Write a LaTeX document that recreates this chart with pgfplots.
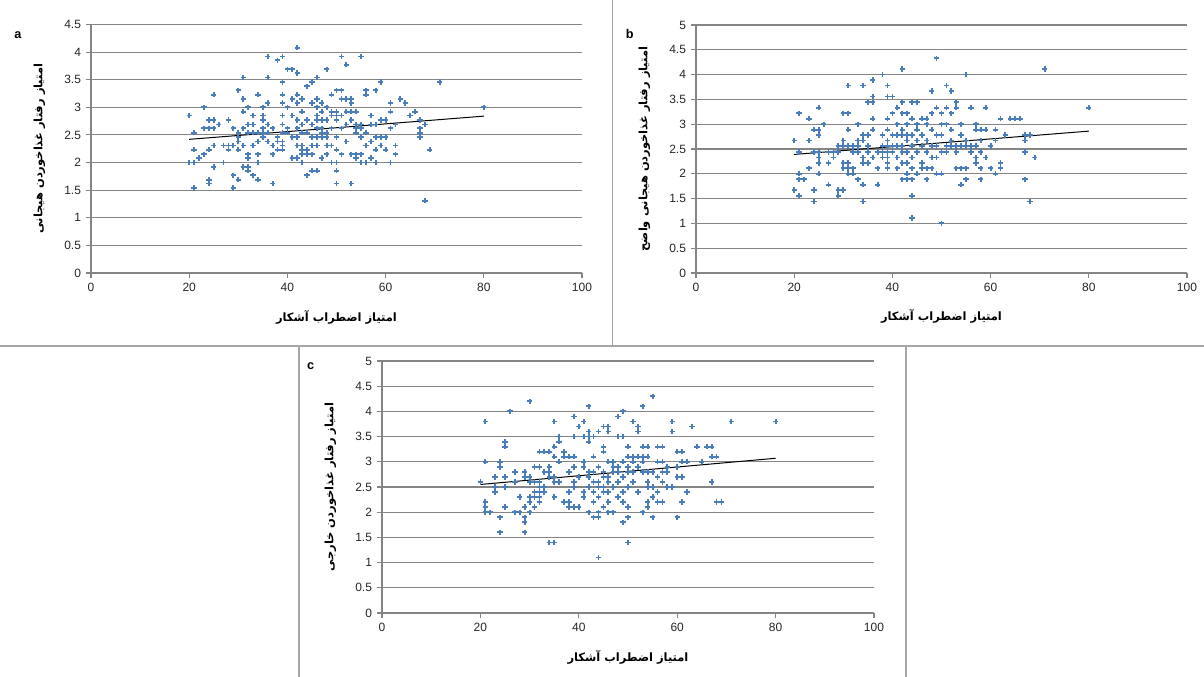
\documentclass[border=0pt]{standalone}
\usepackage{fontspec}
\usepackage{pgfplots}
\pgfplotsset{compat=1.18}
\setmainfont{Liberation Sans}
\newfontfamily\fa[Script=Arabic]{DejaVu Sans}
\TeXXeTstate=1

\definecolor{ptblue}{HTML}{4A7EBB}
\definecolor{gridgray}{HTML}{858585}
\definecolor{framegray}{HTML}{A6A6A6}

\newcommand{\xtitle}{{\fa\bfseries\beginR امتیاز اضطراب آشکار\endR}}

\pgfplotsset{
  panel/.style={
    scale only axis,
    width=368.25pt,
    xmin=0, xmax=100, ymin=0,
    xtick={0,20,...,100},
    axis lines=left,
    axis line style={-, draw=gridgray, line width=0.8pt},
    ymajorgrids,
    grid style={draw=gridgray, line width=0.8pt},
    tick style={draw=gridgray, line width=0.8pt},
    tick align=outside,
    major tick length=4pt,
    /pgf/number format/assume math mode=true,
    tick label style={font=\fontsize{9}{10}\selectfont, text=black!85},
    xlabel=\xtitle,
    xlabel style={at={(axis description cs:0.5,-0.177)}, anchor=center,
      font=\fontsize{8.6}{10}\selectfont},
    ylabel style={at={(axis description cs:-0.105,0.5)}, anchor=center,
      font=\fontsize{8.6}{10}\selectfont},
    clip=false,
  },
  pts/.style={only marks, mark=+, mark size=2pt, ptblue, line width=1.35pt},
  trend/.style={black, line width=0.75pt, no marks},
}

\begin{document}
\begin{tikzpicture}
\path[use as bounding box] (0,0) rectangle (903pt,507.75pt);

% separators
\draw[framegray, line width=1.1pt] (459.5pt,507.75pt) -- (459.5pt,248.25pt);
\draw[framegray, line width=1.3pt] (0pt,248.25pt) -- (903pt,248.25pt);
\draw[framegray, line width=1.1pt] (224.25pt,248.25pt) -- (224.25pt,0pt);
\draw[framegray, line width=1.1pt] (679.5pt,248.25pt) -- (679.5pt,0pt);

% panel a
\begin{axis}[panel, at={(68.25pt,303pt)}, anchor=south west,
  height=186.4pt, ymax=4.5, ytick={0,0.5,...,4.5},
  ylabel={\fa\bfseries\beginR امتیاز رفتار غذاخوردن هیجانی\endR}]
\addplot[pts] coordinates {
(20,2.85)(20,2.0)
(21,2.54)(21,2.23)(21,2.0)(21,1.54)
(22,2.08)
(23,3.0)(23,2.62)(23,2.15)
(24,2.77)(24,2.62)(24,2.23)(24,1.69)(24,1.62)
(25,3.23)(25,2.77)(25,2.62)(25,2.31)(25,1.92)
(26,2.69)
(27,2.31)(27,2.0)
(28,2.77)(28,2.31)(28,2.23)
(29,2.62)(29,2.31)(29,1.77)(29,1.54)
(30,3.31)(30,2.54)(30,2.46)(30,2.38)(30,2.23)(30,1.69)
(31,3.54)(31,3.15)(31,2.92)(31,2.62)(31,2.31)(31,1.92)
(32,3.0)(32,2.69)(32,2.54)(32,2.15)(32,2.08)(32,1.92)(32,1.85)
(33,2.85)(33,2.69)(33,2.54)(33,2.31)(33,1.77)
(34,3.23)(34,2.54)(34,2.38)(34,2.15)(34,2.0)(34,1.69)
(35,3.0)(35,2.85)(35,2.77)(35,2.62)(35,2.54)(35,2.46)
(36,3.92)(36,3.54)(36,3.08)(36,2.69)(36,2.54)(36,2.38)
(37,2.62)(37,2.31)(37,2.15)(37,1.62)
(38,3.85)(38,2.46)(38,2.38)(38,2.23)
(39,3.92)(39,3.46)(39,3.23)(39,3.08)(39,2.85)(39,2.69)(39,2.54)(39,2.38)(39,2.31)(39,2.23)
(40,3.69)(40,3.0)(40,2.62)(40,2.54)
(41,3.69)(41,3.15)(41,2.85)(41,2.46)(41,2.08)
(42,4.08)(42,3.62)(42,3.23)(42,3.08)(42,2.77)(42,2.62)(42,2.46)(42,2.31)(42,2.08)
(43,3.15)(43,2.92)(43,2.69)(43,2.54)(43,2.31)(43,2.23)(43,2.15)(43,2.0)
(44,3.38)(44,2.77)(44,2.54)(44,2.23)(44,2.15)(44,1.77)
(45,3.46)(45,3.08)(45,2.69)(45,2.46)(45,2.31)(45,2.15)(45,1.85)
(46,3.54)(46,3.15)(46,3.0)(46,2.85)(46,2.77)(46,2.62)(46,2.46)(46,2.31)(46,1.85)
(47,3.08)(47,2.92)(47,2.77)(47,2.62)(47,2.54)(47,2.46)(47,2.08)
(48,3.69)(48,3.0)(48,2.77)(48,2.54)(48,2.46)(48,2.31)(48,2.15)
(49,3.23)(49,2.92)(49,2.85)(49,2.62)(49,2.31)(49,2.0)
(50,3.31)(50,2.92)(50,2.85)(50,2.77)(50,2.46)(50,2.23)(50,2.0)(50,1.85)(50,1.62)
(51,3.92)(51,3.31)(51,3.15)(51,2.85)(51,2.62)(51,2.15)
(52,3.77)(52,3.15)(52,2.92)(52,2.69)(52,2.38)
(53,3.15)(53,3.08)(53,2.92)(53,2.77)(53,2.15)(53,1.62)
(54,2.92)(54,2.69)(54,2.62)(54,2.54)(54,2.15)(54,2.08)
(55,3.92)(55,2.69)(55,2.62)(55,2.46)(55,2.15)(55,2.0)
(56,3.31)(56,3.23)(56,2.54)(56,2.31)(56,2.0)
(57,2.85)(57,2.69)(57,2.38)(57,2.08)
(58,3.31)(58,2.69)(58,2.46)(58,2.23)(58,2.0)
(59,3.46)(59,2.77)(59,2.46)(59,2.31)
(60,2.77)(60,2.46)(60,2.23)
(61,3.08)(61,2.92)(61,2.62)(61,2.0)
(62,2.69)(62,2.31)(62,2.15)
(63,3.15)(64,3.08)(65,2.85)(66,2.92)
(67,2.77)(67,2.62)(67,2.54)(67,2.46)
(68,2.69)(68,1.31)
(69,2.23)(71,3.46)(80,3.0)
};
\addplot[trend] coordinates {(20,2.42)(80,2.84)};
\node[font=\bfseries\fontsize{9.5}{10}\selectfont] at (axis description cs:-0.149,0.958) {a};
\end{axis}

% panel b
\begin{axis}[panel, at={(522pt,303pt)}, anchor=south west,
  height=186pt, ymax=5, ytick={0,0.5,...,5},
  ylabel={\fa\bfseries\beginR امتیاز رفتار غذاخوردن هیجانی واضح\endR}]
\addplot[pts] coordinates {
(20,2.67)(20,1.67)
(21,3.22)(21,2.44)(21,2.0)(21,1.89)(21,1.56)
(22,1.89)
(23,3.11)(23,2.67)(23,2.11)
(24,2.89)(24,2.44)(24,1.67)(24,1.44)
(25,3.33)(25,2.89)(25,2.78)(25,2.44)(25,2.33)(25,2.22)(25,2.0)
(26,3.0)
(27,2.44)(27,2.22)(27,1.78)
(28,2.44)(28,2.33)
(29,2.56)(29,2.44)(29,1.67)(29,1.56)
(30,3.22)(30,2.67)(30,2.56)(30,2.22)(30,2.11)(30,1.67)
(31,3.78)(31,3.22)(31,2.89)(31,2.56)(31,2.22)(31,2.11)(31,2.0)
(32,2.56)(32,2.44)(32,2.11)(32,2.0)
(33,3.0)(33,2.67)(33,2.56)(33,2.44)(33,1.89)
(34,3.78)(34,2.78)(34,2.67)(34,2.33)(34,2.22)(34,1.78)(34,1.44)
(35,3.44)(35,2.78)(35,2.56)(35,2.44)(35,2.22)
(36,3.89)(36,3.56)(36,3.44)(36,3.11)(36,2.89)(36,2.33)
(37,2.44)(37,2.11)(37,1.78)
(38,4.0)(38,2.78)(38,2.56)(38,2.44)(38,2.33)
(39,3.78)(39,3.56)(39,3.11)(39,2.89)(39,2.67)(39,2.56)(39,2.44)(39,2.33)(39,2.22)(39,2.11)
(40,3.56)(40,3.22)(40,2.78)(40,2.56)(40,2.44)
(41,3.33)(41,3.0)(41,2.78)(41,2.56)(41,2.33)(41,2.11)
(42,4.11)(42,3.44)(42,3.22)(42,2.89)(42,2.78)(42,2.56)(42,2.44)(42,2.22)(42,1.89)
(43,3.22)(43,3.0)(43,2.78)(43,2.67)(43,2.44)(43,2.22)(43,2.0)(43,1.89)
(44,3.44)(44,3.11)(44,2.78)(44,2.56)(44,2.33)(44,2.11)(44,1.89)(44,1.56)(44,1.11)
(45,3.44)(45,3.0)(45,2.89)(45,2.67)(45,2.44)(45,2.0)
(46,3.11)(46,2.78)(46,2.56)(46,2.22)(46,2.11)
(47,3.11)(47,3.0)(47,2.67)(47,2.44)(47,2.11)(47,1.89)
(48,3.67)(48,3.22)(48,2.89)(48,2.56)(48,2.33)(48,2.11)
(49,4.33)(49,3.33)(49,2.78)(49,2.56)(49,2.33)(49,2.0)
(50,3.22)(50,3.0)(50,2.78)(50,2.44)(50,2.0)(50,1.0)
(51,3.78)(51,3.33)(51,3.0)(51,2.56)(51,2.44)
(52,3.67)(52,3.22)(52,2.89)(52,2.67)(52,2.56)
(53,3.44)(53,3.33)(53,2.56)(53,2.44)(53,2.11)
(54,3.0)(54,2.78)(54,2.56)(54,2.11)(54,1.78)
(55,4.0)(55,2.67)(55,2.56)(55,2.11)(55,1.89)
(56,3.33)(56,2.56)(56,2.44)
(57,3.0)(57,2.89)(57,2.56)(57,2.33)(57,2.22)
(58,2.89)(58,2.67)(58,2.44)(58,2.11)(58,1.89)
(59,3.33)(59,2.89)(59,2.33)
(60,2.56)(60,2.11)
(61,2.89)(61,2.67)(61,2.0)
(62,3.11)(62,2.22)(62,2.11)
(63,2.78)(64,3.11)(65,3.11)(66,3.11)
(67,2.78)(67,2.67)(67,2.44)(67,1.89)
(68,2.78)(68,1.44)
(69,2.33)(71,4.11)(80,3.33)
};
\addplot[trend] coordinates {(20,2.39)(80,2.86)};
\node[font=\bfseries\fontsize{9.5}{10}\selectfont] at (axis description cs:-0.135,0.965) {b};
\end{axis}

% panel c
\begin{axis}[panel, at={(286.5pt,48pt)}, anchor=south west,
  width=369pt, height=189pt, ymax=5, ytick={0,0.5,...,5},
  ylabel={\fa\bfseries\beginR امتیاز رفتار غذاخوردن خارجی\endR}]
\addplot[pts] coordinates {
(20,2.6)
(21,3.8)(21,3.0)(21,2.2)(21,2.1)(21,2.0)
(22,2.0)
(23,2.7)(23,2.5)(23,2.4)
(24,3.0)(24,2.9)(24,1.9)(24,1.6)
(25,3.4)(25,3.3)(25,2.7)(25,2.5)(25,2.1)
(26,4.0)
(27,2.8)(27,2.6)(27,2.0)
(28,2.3)(28,2.0)
(29,2.8)(29,2.7)(29,2.1)(29,1.9)(29,1.8)(29,1.6)
(30,4.2)(30,2.7)(30,2.6)(30,2.3)(30,2.2)(30,2.0)
(31,2.9)(31,2.6)(31,2.4)(31,2.3)(31,2.1)
(32,3.2)(32,2.9)(32,2.6)(32,2.5)(32,2.4)(32,2.3)(32,2.2)
(33,3.2)(33,2.8)(33,2.5)(33,2.4)
(34,3.2)(34,2.9)(34,2.8)(34,2.7)(34,1.4)
(35,3.8)(35,3.3)(35,3.1)(35,2.7)(35,2.6)(35,2.3)(35,1.4)
(36,3.5)(36,3.4)(36,3.0)(36,2.6)
(37,3.2)(37,3.1)(37,2.2)
(38,3.1)(38,2.8)(38,2.4)(38,2.2)(38,2.1)
(39,3.9)(39,3.5)(39,3.1)(39,2.9)(39,2.6)(39,2.5)(39,2.1)
(40,3.7)(40,2.7)(40,2.1)
(41,3.8)(41,3.5)(41,3.0)(41,2.9)(41,2.4)(41,2.3)
(42,4.1)(42,3.6)(42,3.5)(42,3.4)(42,2.8)(42,2.7)(42,2.5)(42,2.0)
(43,3.5)(43,3.1)(43,2.8)(43,2.6)(43,2.4)(43,2.2)(43,1.9)
(44,3.6)(44,2.9)(44,2.6)(44,2.5)(44,2.3)(44,2.0)(44,1.9)(44,1.1)
(45,3.7)(45,3.3)(45,3.2)(45,2.8)(45,2.7)(45,2.5)(45,2.4)(45,2.1)
(46,3.7)(46,3.6)(46,3.0)(46,2.7)(46,2.6)(46,2.4)(46,2.2)(46,2.0)
(47,3.0)(47,2.9)(47,2.8)(47,2.5)(47,2.0)
(48,3.9)(48,3.5)(48,2.9)(48,2.8)(48,2.6)(48,2.3)
(49,4.0)(49,3.5)(49,3.0)(49,2.7)(49,2.4)(49,2.2)(49,1.8)
(50,3.3)(50,3.1)(50,2.9)(50,2.8)(50,2.5)(50,2.1)(50,1.9)(50,1.4)
(51,3.8)(51,3.1)(51,3.0)(51,2.8)(51,2.6)
(52,3.7)(52,3.6)(52,3.1)(52,2.9)(52,2.4)
(53,4.1)(53,3.3)(53,3.1)(53,3.0)(53,2.8)(53,2.0)
(54,3.3)(54,3.1)(54,2.8)(54,2.6)(54,2.5)(54,2.2)(54,2.1)
(55,4.3)(55,2.8)(55,2.5)(55,2.3)(55,1.9)
(56,3.3)(56,3.0)(56,2.7)(56,2.4)(56,2.2)
(57,3.3)(57,3.0)(57,2.8)(57,2.6)(57,2.2)
(58,2.9)(58,2.8)(58,2.5)
(59,3.8)(59,3.6)(59,2.5)
(60,3.2)(60,2.9)(60,2.7)(60,1.9)
(61,3.2)(61,3.0)(61,2.7)(61,2.2)
(62,3.0)(62,2.4)
(63,3.7)(64,3.3)(65,3.0)(66,3.3)
(67,3.3)(67,3.1)(67,2.6)
(68,3.1)(68,2.2)
(69,2.2)(71,3.8)(80,3.8)
};
\addplot[trend] coordinates {(20,2.55)(80,3.07)};
\node[font=\bfseries\fontsize{9.5}{10}\selectfont] at (axis description cs:-0.145,0.98) {c};
\end{axis}
\end{tikzpicture}
\end{document}
